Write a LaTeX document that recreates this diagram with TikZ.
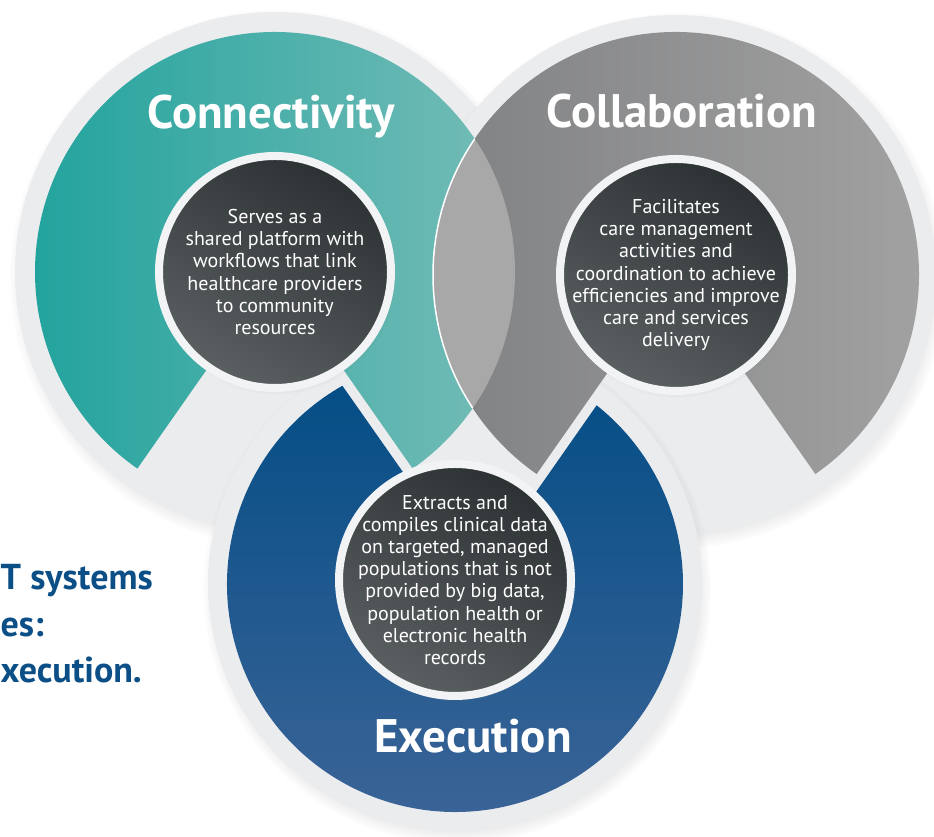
\documentclass[tikz,border=0pt]{standalone}
\usepackage{fontspec}
\setmainfont{PT Sans}
\definecolor{rimgray}{RGB}{235,236,238}
\definecolor{ringwhite}{RGB}{242,243,245}
\definecolor{tealdark}{RGB}{34,163,157}
\definecolor{teallight}{RGB}{124,190,185}
\definecolor{graydark}{RGB}{128,129,131}
\definecolor{graylight}{RGB}{163,163,163}
\definecolor{lensgray}{RGB}{168,168,168}
\definecolor{bluetop}{RGB}{5,78,134}
\definecolor{bluebottom}{RGB}{62,101,152}
\definecolor{coredark}{RGB}{44,49,52}
\definecolor{corelight}{RGB}{90,95,98}
\definecolor{textblue}{RGB}{12,79,135}
\usetikzlibrary{calc,shadows,positioning}

\begin{document}
\begin{tikzpicture}[x=1pt,y=1pt,
  rim/.style={circle,fill=rimgray,inner sep=0pt,minimum size=#1,
    circular drop shadow={shadow xshift=2pt,shadow yshift=-5pt,shadow scale=1.03,opacity=0.4}},
  core/.style={circle,draw=ringwhite,line width=8pt,inner sep=0pt,minimum size=232pt,
    left color=coredark,right color=corelight,shading angle=-30,
    circular drop shadow={shadow xshift=1pt,shadow yshift=-2pt,shadow scale=1.04,opacity=0.3}},
  title/.style={text=white,anchor=base,font=\bfseries\fontsize{47}{52}\selectfont},
  body/.style={text=white,align=center,font=\fontsize{20}{22.2}\selectfont},
  lead/.style={text=textblue,anchor=base west,inner sep=0pt,font=\bfseries\fontsize{36}{42}\selectfont}]
  \useasboundingbox[fill=white] (0,0) rectangle (934,837);

  % outer rims
  \node[rim=520pt] (c1rim) at (275,565) {};
  \node[rim=520pt] (c2rim) at (676,562) {};
  \node[rim=494pt] (c3rim) at (455,253) {};

  % coloured rings, cut open below
  \shade[left color=tealdark,right color=teallight] (c1rim.center) -- ++(-55:240)
    arc[start angle=-55,end angle=235,radius=240] -- cycle;
  \shade[left color=graydark,right color=graylight] (c2rim.center) -- ++(-55:243)
    arc[start angle=-55,end angle=235,radius=243] -- cycle;
  \begin{scope}
    \clip (c1rim.center) circle[radius=240];
    \fill[lensgray] (c2rim.center) circle[radius=243];
    \draw[white,line width=1.5pt] (c2rim.center) circle[radius=243];
  \end{scope}
  \coordinate (notch) at (476.6,260);
  \shade[top color=bluetop,bottom color=bluebottom] (notch) -- ($(c3rim.center)+(119.6:228)$)
    arc[start angle=119.6,end angle=411.6,radius=228] -- cycle;

  % inner discs
  \node[core] (c1core) at (c1rim.center) {};
  \node[core] (c2core) at (c2rim.center) {};
  \node[core] (c3core) at (455,257) {};

  \node[body] (c1text) at (c1core) {Serves as a\\shared platform with\\workflows that link\\healthcare providers\\to community\\resources};
  \node[body] (c2text) at (c2core) {Facilitates\\care management\\activities and\\coordination to achieve\\efficiencies and improve\\care and services\\delivery};
  \node[body] (c3text) at (c3core) {Extracts and\\compiles clinical data\\on targeted, managed\\populations that is not\\provided by big data,\\population health or\\electronic health\\records};

  \node[title] (c1title) at (271,708) {Connectivity};
  \node[title] (c2title) at (682,709) {Collaboration};
  \node[title] (c3title) at (473,84) {Execution};

  \node[lead] (lead1) at (0.5,247) {T systems};
  \node[lead] (lead2) at (0.5,200) {es:};
  \node[lead] (lead3) at (0.5,154) {xecution.};
\end{tikzpicture}
\end{document}
